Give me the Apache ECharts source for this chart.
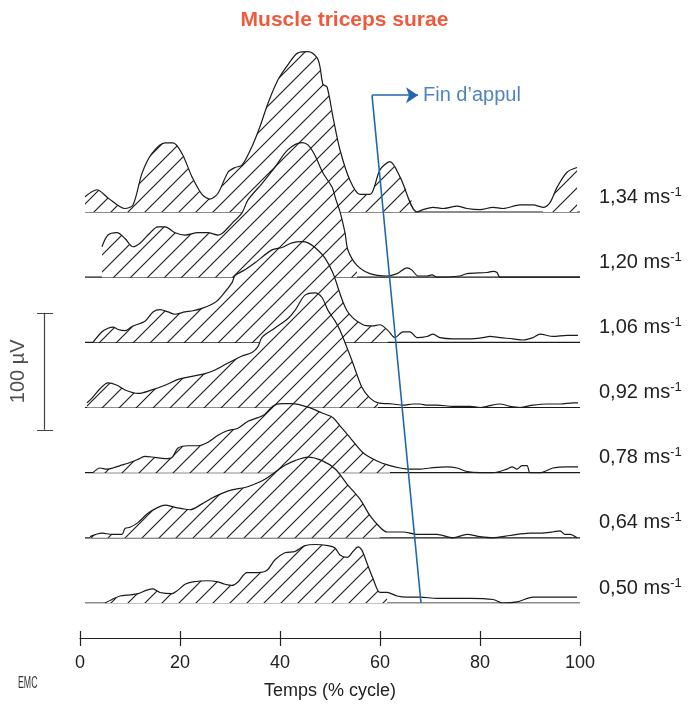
<!DOCTYPE html>
<html>
<head>
<meta charset="utf-8">
<script src="https://cdn.jsdelivr.net/npm/echarts@6/dist/echarts.min.js"></script>
<style>
html,body{margin:0;padding:0;background:#fff;}
#main{width:689px;height:706px;}
</style>
</head>
<body>
<div id="main"></div>
<script>
var FONT = '"Liberation Sans", Arial, sans-serif';

// walking speeds, top trace first
var speeds = ['1,34', '1,20', '1,06', '0,92', '0,78', '0,64', '0,50'];

// EMG envelopes: [% of cycle, µV above the trace baseline]
var emg134 = [[1,13],[3.4,19],[5.6,12],[9,3],[10.6,6],[12.4,33],[14.4,50],[17,59],[18.6,59],[20.4,50],[22.4,30],[24.4,15],[26,11],[27.6,16],[29.6,34],[31,38],[32.4,40],[34.4,56],[36,73],[37.6,93],[39.6,113],[41.6,126],[43.6,136],[45.6,137],[47.4,132],[48,124],[48.6,109],[49.4,107],[50.6,81],[52,53],[54,27],[56,15],[58,15],[60,36],[62,43],[64,30],[67.4,0],[68.6,2],[70.6,4],[72.6,3],[75.4,5],[77.4,3],[80,2],[82.6,4],[84.6,3],[88,6],[90.6,6],[92.6,4],[94,8],[95.4,21],[97.4,34],[99.4,38]];
var emg120 = [[4.4,26],[5.6,36],[7.4,38],[9,33],[10.6,26],[12,29],[13.6,36],[15.6,43],[17,43],[19,38],[21,36],[23.6,38],[25.6,38],[27.6,36],[28.6,38],[30.4,46],[32.4,55],[33.6,66],[36.4,80],[39,94],[41.6,109],[44.4,115],[45.6,113],[47,104],[48.6,89],[50.4,77],[51.2,66],[52,56],[53,38],[53.6,23],[55.4,10],[58,3],[61.4,1],[63.4,3],[65.4,8],[66.4,6],[67.6,1],[69.4,1],[70.4,2],[71.4,0],[76,1],[77.4,3],[81.4,4],[82.6,5],[83.4,4],[84,0],[100,0]];
var emg106 = [[2.6,0],[4.4,9],[5.6,12],[6.6,13],[7.6,11],[9,10],[10.6,14],[13,18],[14.6,26],[16,28],[17.6,26],[19,24],[21,26],[22.6,27],[24.4,29],[27,34],[28.4,40],[30.4,51],[31,57],[33,62],[35,68],[38.4,79],[40.4,81],[42.4,85],[44.4,86],[45.6,85],[47,81],[49,72],[50.6,59],[53.4,27],[56.6,15],[58.4,14],[60,15],[61.6,10],[63,4],[64.6,9],[66,9],[67.4,4],[69.4,5],[70.6,7],[72,4],[74.6,3],[78,3],[80.6,4],[82,5],[84,4],[86.6,3],[88.6,2],[90.6,4],[92,7],[94.6,5],[97.4,6],[99.6,6]];
var emg092 = [[1.4,4],[2.4,8],[4,16],[5.6,21],[7.4,19],[9,15],[11.6,12],[14.4,15],[17,19],[19.6,24],[21.6,26],[25,29],[27,32],[29.6,38],[32.4,44],[34.4,47],[35.6,52],[36.4,60],[39,68],[41.6,76],[43,83],[45,96],[47,98],[48.4,94],[49.6,83],[51,74],[52,66],[54.4,40],[56.4,17],[58,8],[59.6,4],[62.6,3],[64.6,2],[66.6,3],[68,3],[69.4,2],[71.4,2],[74.6,1],[78,1],[80,0],[81.4,1],[84,3],[86,1],[88,0],[90.6,2],[93.4,3],[96,3],[98.6,4],[99.6,4]];
var emg078 = [[2.6,0],[4,4],[5.4,3],[6.6,4],[8,6],[9.6,8],[11.4,11],[13,14],[15,13],[17,12],[18.4,13],[19.6,21],[21.6,23],[23.6,23],[25.6,26],[27.6,32],[29.6,36],[31.6,38],[33.6,44],[35.6,47],[37,50],[38.6,57],[40.4,59],[42.4,59],[45.6,56],[48.4,51],[50.6,47],[52,40],[54,30],[56.6,17],[59.4,10],[62,6],[64,4],[66,3],[68,3],[70,4],[73.4,5],[75.4,4],[77.4,1],[80,0],[82.6,0],[85.4,3],[86.4,5],[87.4,3],[88.4,6],[89.4,6],[90,0],[92,0],[94.6,4],[97.4,5],[99.6,5]];
var emg064 = [[2,1],[4.4,4],[6.4,3],[8.4,3],[9,8],[10,9],[11.6,13],[13.6,21],[15.6,26],[17,28],[19,26],[20.4,25],[22,24],[24.4,29],[26.4,34],[28.4,38],[30.4,41],[33,43],[35,46],[37,50],[39,56],[41,62],[43,66],[45.6,69],[48.4,66],[51,59],[53.4,46],[56,33],[58,19],[60,9],[61.4,5],[64.6,5],[67.4,3],[71.4,3],[74.6,0],[77.4,3],[80,1],[82.6,0],[86,2],[90,4],[92,4],[94.6,5],[96,6],[97,3],[98,3],[99.4,0]];
var emg050 = [[5,0],[6.4,3],[8,6],[10,7],[11.6,8],[13.4,11],[14.6,12],[16,9],[18.4,8],[19.6,11],[21,16],[22.6,18],[25.6,19],[27.6,18],[29,16],[30.4,15],[31.6,18],[33.4,26],[35.6,26],[37.4,28],[39,37],[41,43],[43,44],[45,49],[47,50],[49.6,49],[51,47],[52,41],[53.4,39],[54.6,44],[55.6,48],[56.4,45],[57.4,34],[58.6,21],[60,9],[61.4,9],[63.4,6],[65.4,5],[68,5],[71.4,4],[74.6,4],[78,4],[82.6,3],[84.6,0],[87.4,1],[90.6,5],[94.6,5],[99.4,5]];

// hatched (active) parts of each trace, in % of cycle
var hatch134 = [[1, 67.4], [92.6, 99.4]];
var hatch120 = [[4.4, 56]];
var hatch106 = [[2.6, 61.6]];
var hatch092 = [[1.4, 59.6]];
var hatch078 = [[2.6, 62]];
var hatch064 = [[2, 60]];
var hatch050 = [[5, 61.4]];

// end of stance line: [% cycle, µV above the lowest baseline]
var finAppui = [[68.2, 0], [58.4, 434], [67.6, 434]];

var traces = [emg134, emg120, emg106, emg092, emg078, emg064, emg050];
var hatches = [hatch134, hatch120, hatch106, hatch092, hatch078, hatch064, hatch050];
var rowGap = 55.7;
var BLUE = '#2266b2';

function hatchTile() {
    var s = 17;
    var c = document.createElement('canvas');
    c.width = s; c.height = s;
    var g = c.getContext('2d');
    g.fillStyle = '#fff';
    g.fillRect(0, 0, s, s);
    g.strokeStyle = '#1e1e1e';
    g.lineWidth = 1.15;
    g.beginPath();
    g.moveTo(0, s); g.lineTo(s, 0);
    g.moveTo(-2, 2); g.lineTo(2, -2);
    g.moveTo(s - 2, s + 2); g.lineTo(s + 2, s - 2);
    g.stroke();
    return c;
}
var pattern = {image: hatchTile(), repeat: 'repeat'};

var series = [];
traces.forEach(function (tr, r) {
    var off = (traces.length - 1 - r) * rowGap;
    var shifted = tr.map(function (p) { return [p[0], p[1] + off]; });
    // baseline + speed label
    series.push({
        type: 'line', z: 1 + 3 * r, symbol: 'none', silent: true,
        data: [[1, off], [100, off]],
        lineStyle: {color: '#1a1a1a', width: 1.2},
        endLabel: {
            show: true,
            offset: [11, -15],
            formatter: '{a|' + speeds[r] + ' ms}{b|-1}',
            rich: {
                a: {fontSize: 20, fontFamily: FONT, color: '#222', lineHeight: 23},
                b: {fontSize: 13, fontFamily: FONT, color: '#222', verticalAlign: 'top', lineHeight: 13}
            }
        }
    });
    hatches[r].forEach(function (rg) {
        series.push({
            type: 'line', z: 2 + 3 * r, symbol: 'none', silent: true, smooth: 0.3,
            data: shifted.filter(function (p) { return p[0] >= rg[0] && p[0] <= rg[1]; }),
            lineStyle: {width: 0},
            areaStyle: {color: pattern, opacity: 1, origin: off}
        });
    });
    series.push({
        type: 'line', z: 3 + 3 * r, symbol: 'none', silent: true, smooth: 0.3,
        data: shifted,
        lineStyle: {color: '#1a1a1a', width: 1.2}
    });
});

// end of stance marker: rising stem, then arrow to the label
series.push({
    type: 'lines', coordinateSystem: 'cartesian2d', z: 40, silent: true,
    symbol: 'none',
    lineStyle: {color: BLUE, width: 1.6, opacity: 1},
    data: [{coords: [finAppui[0], finAppui[1]]}]
});
series.push({
    type: 'lines', coordinateSystem: 'cartesian2d', z: 40, silent: true,
    symbol: ['none', 'arrow'], symbolSize: [0, 12],
    lineStyle: {color: BLUE, width: 1.6, opacity: 1},
    data: [{coords: [finAppui[1], finAppui[2]]}]
});
series.push({
    type: 'scatter', z: 40, symbolSize: 0, silent: true,
    data: [[finAppui[2][0] + 1.0, finAppui[2][1]]],
    label: {show: true, position: 'right', distance: 0, formatter: 'Fin d\u2019appul',
        color: BLUE, fontSize: 20, fontFamily: FONT}
});

// 100 µV scale bar
series.push({
    type: 'lines', coordinateSystem: 'cartesian2d', z: 40, silent: true,
    lineStyle: {color: '#444', width: 1.2, opacity: 1},
    data: [
        {coords: [[-7.2, 148], [-7.2, 248]]},
        {coords: [[-8.6, 248], [-5.4, 248]]},
        {coords: [[-8.6, 148], [-5.4, 148]]}
    ]
});
series.push({
    type: 'scatter', z: 40, symbolSize: 0, silent: true,
    data: [[-12.4, 198]],
    label: {show: true, position: 'inside', rotate: 90, formatter: '100 µV',
        color: '#222', fontSize: 20, fontFamily: FONT}
});

var option = {
    animation: false,
    backgroundColor: '#fff',
    title: {
        text: 'Muscle triceps surae',
        left: 'center', top: 5,
        textStyle: {color: '#ef5a3c', fontSize: 21, fontWeight: 'bold', fontFamily: FONT}
    },
    grid: [
        {left: 0, right: 109, top: 41.4, bottom: 103},
        {left: 80, right: 109, top: 620, bottom: 68}
    ],
    xAxis: [
        {gridIndex: 0, type: 'value', min: -16, max: 100, show: false},
        {
            gridIndex: 1, type: 'value', min: 0, max: 100, interval: 20, position: 'bottom',
            axisLine: {lineStyle: {color: '#222', width: 1.2}},
            axisTick: {length: 8, lineStyle: {color: '#222', width: 1.2}},
            axisLabel: {fontSize: 18, color: '#222', margin: 16, fontFamily: FONT},
            splitLine: {show: false},
            name: 'Temps (% cycle)', nameLocation: 'middle', nameGap: 44,
            nameTextStyle: {fontSize: 18, color: '#222', fontFamily: FONT}
        },
        {
            gridIndex: 1, type: 'value', min: 0, max: 100, interval: 20, position: 'bottom',
            axisLine: {show: false},
            axisTick: {inside: true, length: 7, lineStyle: {color: '#222', width: 1.2}},
            axisLabel: {show: false},
            splitLine: {show: false}
        }
    ],
    yAxis: [
        {gridIndex: 0, type: 'value', min: 0, max: 480, show: false},
        {gridIndex: 1, type: 'value', min: 0, max: 1, show: false}
    ],
    graphic: [{
        type: 'text', left: 18, top: 676, scaleX: 0.55,
        style: {text: 'EMC', fontSize: 16, fill: '#333', fontFamily: FONT}
    }],
    series: series
};

var chart = echarts.init(document.getElementById('main'));
chart.setOption(option);
</script>
</body>
</html>
